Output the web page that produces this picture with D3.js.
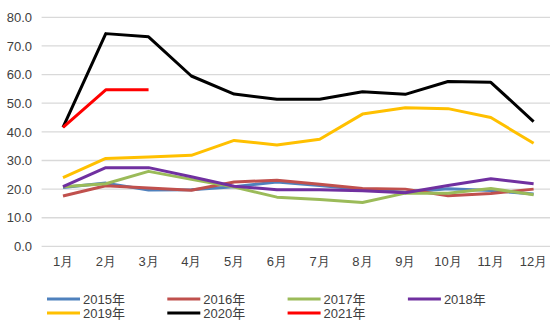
<!DOCTYPE html>
<html><head><meta charset="utf-8">
<script src="https://cdn.jsdelivr.net/npm/d3@7"></script>
<style>
body{margin:0;background:#fff;}
svg{display:block;font-family:"Liberation Sans","Noto Sans CJK SC",sans-serif;}
</style></head>
<body><svg id="c" width="550" height="332"></svg>
<script>
const months = ["1月","2月","3月","4月","5月","6月","7月","8月","9月","10月","11月","12月"];
const yTicks = [0,10,20,30,40,50,60,70,80];
const seriesNames = ["2015年","2016年","2017年","2018年","2019年","2020年","2021年"];
const seriesColors = ["#4F81BD","#C0504D","#9BBB59","#7030A0","#FFC000","#000000","#FF0000"];
const v2015 = [20.6,22.1,19.7,19.8,20.8,22.5,21.3,19.9,18.9,20.1,19.5,18.3];
const v2016 = [17.6,21.2,20.4,19.6,22.5,23.1,21.7,20.2,20.0,17.7,18.5,20.0];
const v2017 = [20.8,21.9,26.2,23.4,20.7,17.2,16.4,15.3,18.6,18.6,20.2,18.0];
const v2018 = [20.9,27.5,27.5,24.3,21.0,19.8,19.8,19.4,18.7,21.3,23.6,21.9];
const v2019 = [24.0,30.7,31.2,31.8,37.0,35.4,37.4,46.2,48.4,48.1,45.0,36.0];
const v2020 = [41.6,74.3,73.2,59.5,53.2,51.4,51.4,54.0,53.1,57.6,57.3,43.6];
const v2021 = [41.6,54.7,54.7];
const allValues = [v2015,v2016,v2017,v2018,v2019,v2020,v2021];

const svg = d3.select("#c");
const x = d3.scaleBand().domain(months).range([41.6,555]);
const y = d3.scaleLinear().domain([0,80]).range([246.4,17.3]);

// gridlines
svg.append("g").selectAll("line").data(yTicks).join("line")
  .attr("x1",41.6).attr("x2",555).attr("y1",d=>y(d)).attr("y2",d=>y(d))
  .attr("stroke","#d9d9d9").attr("stroke-width",1.3);

// y axis labels
const yAxis = d3.axisLeft(y).tickValues(yTicks).tickFormat(d3.format(".1f")).tickSize(0).tickPadding(0);
const gy = svg.append("g").attr("transform","translate(32,0)").call(yAxis);
gy.select(".domain").remove();
gy.selectAll("text").attr("font-size",13).attr("fill","#404040").attr("font-family","Liberation Sans, sans-serif");

// x axis labels
const xAxis = d3.axisBottom(x).tickSize(0).tickPadding(0);
const gx = svg.append("g").attr("transform","translate(0,257)").call(xAxis);
gx.select(".domain").remove();
gx.selectAll("text").attr("font-size",13).attr("fill","#404040").attr("dy","0.71em");

const line = d3.line().x((d,i)=>x(months[i])+x.bandwidth()/2).y(d=>y(d));
svg.append("g").selectAll("path").data(allValues).join("path")
  .attr("d",d=>line(d)).attr("fill","none")
  .attr("stroke",(d,i)=>seriesColors[i]).attr("stroke-width",3)
  .attr("stroke-linejoin","round");

// legend
const lg = svg.append("g");
seriesNames.forEach((n,i)=>{
  const col=i%4, row=Math.floor(i/4);
  const lx=47+col*120.3, ly=299+row*14;
  lg.append("line").attr("x1",lx).attr("x2",lx+33).attr("y1",ly).attr("y2",ly)
    .attr("stroke",seriesColors[i]).attr("stroke-width",3);
  lg.append("text").attr("x",lx+36).attr("y",ly).attr("dy","0.35em")
    .attr("font-size",13).attr("fill","#404040").text(n);
});
</script></body></html>
